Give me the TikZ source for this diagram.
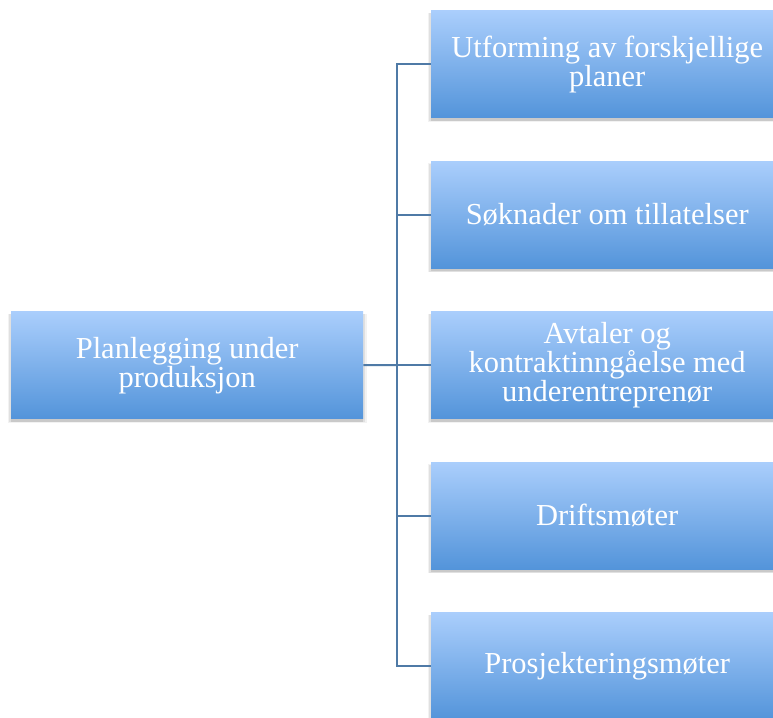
\documentclass[tikz,border=0pt]{standalone}
\usepackage{fontspec}
\setmainfont{Liberation Serif}
\usetikzlibrary{shadows}
\definecolor{boxtop}{RGB}{170,206,252}
\definecolor{boxbot}{RGB}{83,148,218}
\definecolor{linkblue}{RGB}{79,122,166}
\tikzset{
  box/.style={rectangle, anchor=north west, minimum width=352pt, minimum height=107pt,
    inner sep=0pt, top color=boxtop, bottom color=boxbot, text=white, align=center,
    font=\fontsize{30.5}{29}\selectfont,
    general shadow={fill=black, opacity=0.10, shadow yshift=-3pt, shadow scale=1.0},
    general shadow={fill=black, opacity=0.07, shadow yshift=-3pt, shadow scale=1.01},
    general shadow={fill=black, opacity=0.05, shadow yshift=-3pt, shadow scale=1.02}},
  link/.style={draw=linkblue, line width=2pt}
}
\begin{document}
\begin{tikzpicture}[x=1pt,y=-1pt]
  \clip (0,0) rectangle (773,717);
  \fill[white] (0,0) rectangle (773,717);
  % root and branch boxes
  \node[box] (root) at (11,311.5) {Planlegging under\\produksjon};
  \node[box] (b1) at (431,10.5) {Utforming av forskjellige\\planer};
  \node[box] (b2) at (431,161) {Søknader om tillatelser};
  \node[box] (b3) at (431,311.5) {Avtaler og\\kontraktinngåelse med\\underentreprenør};
  \node[box] (b4) at (431,462) {Driftsmøter};
  \node[box] (b5) at (431,612.5) {Prosjekteringsmøter};
  % junction on the trunk line
  \coordinate (hub) at (397,365);
  \draw[link] (root.east) -- (hub);
  \foreach \b in {b1,b2,b3,b4,b5}
    \draw[link] (hub) |- (\b.west);
\end{tikzpicture}
\end{document}
